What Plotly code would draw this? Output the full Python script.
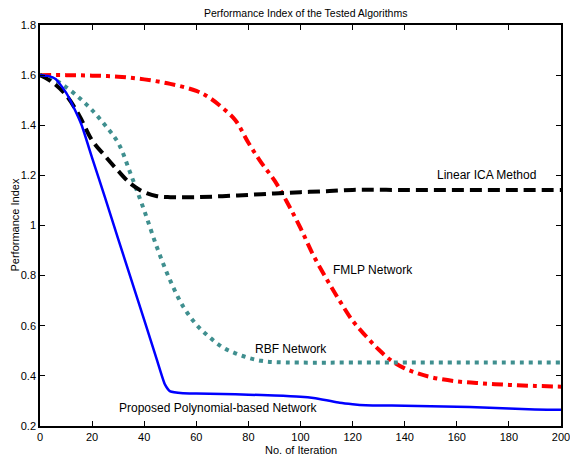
import plotly.graph_objects as go

# ---- data ----
iter_blue = [0, 3, 6, 10, 13, 16, 20, 25, 30, 35, 40, 45, 48, 50, 55, 60, 70, 80, 90, 100,
             105, 110, 115, 120, 125, 130, 140, 150, 160, 170, 180, 190, 200]
pi_proposed = [1.6, 1.597, 1.585, 1.53, 1.47, 1.40, 1.27, 1.11, 0.947, 0.785, 0.623, 0.46,
               0.365, 0.338, 0.331, 0.33, 0.328, 0.325, 0.322, 0.317,
               0.312, 0.303, 0.293, 0.287, 0.283, 0.282, 0.281, 0.279, 0.277, 0.274, 0.27, 0.266, 0.265]

iter_black = [0, 5, 10, 15, 20, 25, 30, 35, 40, 45, 50, 60, 70, 80, 90, 100, 110, 115, 120,
              140, 160, 180, 200]
pi_linear_ica = [1.6, 1.57, 1.52, 1.44, 1.34, 1.277, 1.218, 1.165, 1.133, 1.117, 1.113, 1.113,
                 1.117, 1.122, 1.128, 1.133, 1.137, 1.14, 1.142, 1.142, 1.142, 1.142, 1.142]

iter_teal = [0, 5, 9, 15, 20, 25, 30, 35, 40, 45, 50, 55, 60, 65, 70, 75, 80, 85, 90, 100,
             120, 150, 200]
pi_rbf = [1.6, 1.585, 1.56, 1.51, 1.46, 1.40, 1.33, 1.20, 1.06, 0.91, 0.78, 0.676, 0.605,
          0.555, 0.515, 0.49, 0.472, 0.46, 0.455, 0.453, 0.453, 0.453, 0.453]

iter_red = [0, 10, 20, 30, 40, 50, 60, 65, 70, 75, 80, 85, 90, 95, 100, 105, 110, 115, 120,
            125, 130, 135, 140, 145, 150, 160, 170, 180, 190, 200]
pi_fmlp = [1.6, 1.6, 1.598, 1.594, 1.583, 1.565, 1.537, 1.51, 1.47, 1.42, 1.33, 1.25, 1.18,
           1.09, 0.99, 0.88, 0.787, 0.70, 0.62, 0.56, 0.505, 0.46, 0.43, 0.41, 0.395, 0.378,
           0.37, 0.364, 0.36, 0.357]

x_ticks = list(range(0, 201, 20))
y_ticks = [0.2, 0.4, 0.6, 0.8, 1.0, 1.2, 1.4, 1.6, 1.8]
y_tick_text = ["0.2", "0.4", "0.6", "0.8", "1", "1.2", "1.4", "1.6", "1.8"]

labels = [
    ("Linear ICA Method", 171.3, 1.20),
    ("FMLP Network", 128.0, 0.822),
    ("RBF Network", 96.4, 0.507),
    ("Proposed Polynomial-based Network", 68.2, 0.272),
]

FONT = "Liberation Sans, Arial, Helvetica, sans-serif"

fig = go.Figure()
fig.add_trace(go.Scatter(x=iter_red, y=pi_fmlp, mode="lines", name="FMLP Network",
                         line=dict(color="#ff0000", width=4, dash="11px,5px,4px,5px", shape="spline")))
fig.add_trace(go.Scatter(x=iter_teal, y=pi_rbf, mode="lines", name="RBF Network",
                         line=dict(color="#3f8f8f", width=4, dash="4px,5px", shape="spline")))
fig.add_trace(go.Scatter(x=iter_black, y=pi_linear_ica, mode="lines", name="Linear ICA Method",
                         line=dict(color="#000000", width=4, dash="12px,6px", shape="spline")))
fig.add_trace(go.Scatter(x=iter_blue, y=pi_proposed, mode="lines", name="Proposed Polynomial-based Network",
                         line=dict(color="#0000ff", width=2.5, shape="spline", smoothing=0.5)))

for txt, xv, yv in labels:
    fig.add_annotation(x=xv, y=yv, text=txt, showarrow=False,
                       font=dict(family=FONT, size=12, color="#000000"))

fig.add_annotation(x=0, y=0.5, xref="paper", yref="paper", text="Performance Index",
                   textangle=-90, showarrow=False, xanchor="center", yanchor="middle",
                   xshift=-26, font=dict(family=FONT, size=11, color="#000000"))
fig.add_annotation(x=0.5, y=0, xref="paper", yref="paper", text="No. of Iteration",
                   showarrow=False, xanchor="center", yanchor="middle",
                   yshift=-24, font=dict(family=FONT, size=11, color="#000000"))

fig.update_layout(
    width=570, height=457,
    margin=dict(l=40, r=9, t=25, b=31, autoexpand=False),
    paper_bgcolor="white", plot_bgcolor="white",
    showlegend=False,
    title=dict(text="Performance Index of the Tested Algorithms", xref="paper", x=0.51,
               xanchor="center", y=1 - 13 / 457, yanchor="middle",
               font=dict(family=FONT, size=10.5, color="#000000")),
    font=dict(family=FONT, size=11, color="#000000"),
)
fig.update_xaxes(range=[0, 200], tickvals=x_ticks, ticks="inside", ticklen=5, tickcolor="#000",
                 showline=True, linecolor="#000", linewidth=1.5, mirror="ticks", automargin=False,
                 ticklabeloverflow="allow",
                 showgrid=False, zeroline=False, tickfont=dict(size=11))
fig.update_yaxes(range=[0.2, 1.8], tickvals=y_ticks, ticktext=y_tick_text, ticks="inside",
                 ticklen=5, tickcolor="#000", showline=True, linecolor="#000", linewidth=1.5,
                 mirror="ticks", automargin=False, ticklabeloverflow="allow",
                 showgrid=False, zeroline=False, tickfont=dict(size=11))

# remove the browser's default 8px body margin so the figure fills the window exactly
fig.write_html("out.html", config={"displayModeBar": False},
               post_script="document.body.style.margin='0';document.body.style.overflow='hidden';")
